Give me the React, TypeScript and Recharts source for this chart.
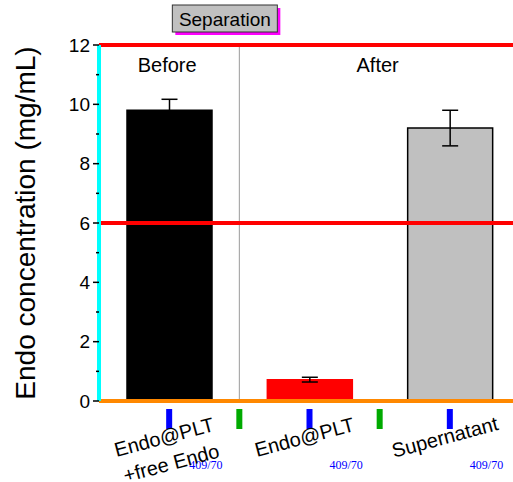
import * as React from "react";
import {
  BarChart,
  Bar,
  Cell,
  ErrorBar,
  XAxis,
  YAxis,
  ReferenceLine,
} from "recharts";

// values
const categories = ["Endo@PLT +free Endo", "Endo@PLT", "Supernatant"];
const categoryLines = [["Endo@PLT", "+free Endo"], ["Endo@PLT"], ["Supernatant"]];
const concentrations = [9.8, 0.72, 9.2];
const errors = [0.37, 0.08, 0.6];
const barColors = ["#000000", "#ff0000", "#c0c0c0"];
const barStrokes = ["#000000", "#ff0000", "#000000"];
const yTicks = [0, 1, 2, 3, 4, 5, 6, 7, 8, 9, 10, 11, 12];

const FONT = "'Liberation Sans', Arial, sans-serif";

const data = categories.map((name, i) => ({
  name,
  value: concentrations[i],
  err: errors[i],
}));

function YTick({ x, y, payload }: any) {
  const major = payload.value % 2 === 0;
  const len = major ? 6 : 3;
  return (
    <g>
      <rect x={x - len} y={y - 0.75} width={len} height={1.5} fill="#000" />
      {major && (
        <text x={x - 9} y={y} textAnchor="end" dominantBaseline="central" fontSize={19} fontFamily={FONT} fill="#000">
          {payload.value}
        </text>
      )}
    </g>
  );
}

function XTick({ x, y, index, payload }: any) {
  const lines = categoryLines[index] || [];
  const half = payload && payload.offset ? payload.offset : 70;
  return (
    <g>
      <rect x={x - 3} y={y} width={6} height={20} fill="#00f" />
      <rect x={x + half - 3} y={y} width={6} height={20} fill="#0a0" />
      <text x={x + 20} y={y + 60} fontSize={12} fill="#00f">{Math.round(y)}/{Math.round(half)}</text>
      <g transform={`translate(${x - 5},${y + 28}) rotate(-15)`}>
        {lines.map((l, i) => (
          <text key={i} x={0} y={i * 27} textAnchor="middle" dominantBaseline="central" fontSize={20} fontFamily={FONT} fill="#000">
            {l}
          </text>
        ))}
      </g>
    </g>
  );
}

function SeparationTag({ viewBox }: any) {
  const x = viewBox.x - 67;
  const y = viewBox.y - 40;
  return (
    <g>
      <rect x={x + 3} y={y + 3} width={105} height={27} fill="#f0f" />
      <rect x={x} y={y} width={105} height={27} fill="#c0c0c0" stroke="#333" strokeWidth={1} />
      <text x={x + 52.5} y={y + 14} textAnchor="middle" dominantBaseline="central" fontSize={19} fontFamily={FONT} fill="#000">
        Separation
      </text>
    </g>
  );
}

function TopText({ viewBox, value }: any) {
  return (
    <text x={viewBox.x - 2} y={viewBox.y + 20} textAnchor="middle" dominantBaseline="central" fontSize={20} fontFamily={FONT} fill="#000">
      {value}
    </text>
  );
}

function YLabel({ viewBox }: any) {
  const cx = 25;
  const cy = viewBox.y + viewBox.height / 2;
  return (
    <text x={cx} y={cy} transform={`rotate(-90 ${cx} ${cy})`} textAnchor="middle" dominantBaseline="central" fontSize={28} fontFamily={FONT} fill="#000">
      Endo concentration (mg/mL)
    </text>
  );
}

export default function App() {
  return (
    <div style={{ position: "absolute", left: 0, top: 0, width: 513, height: 482, overflow: "hidden" }}>
      <BarChart width={520} height={482} data={data} margin={{ top: 45, right: 0, bottom: 0, left: 0 }} barSize={85}>
        <XAxis dataKey="name" height={81} interval={0} stroke="#f80" strokeWidth={4} tickLine={false} tick={<XTick />} />
        <YAxis
          type="number"
          domain={[0, 12]}
          ticks={yTicks}
          interval={0}
          width={99}
          tickSize={0}
          tickMargin={0}
          tickLine={false}
          stroke="#0ff"
          strokeWidth={4}
          tick={<YTick />}
          label={{ content: <YLabel /> }}
        />
        <ReferenceLine x={categories[0]} stroke="none" label={{ value: "Before", content: <TopText /> }} />
        <ReferenceLine x={categories[1]} position="end" stroke="none" label={{ value: "After", content: <TopText /> }} />
        <ReferenceLine x={categories[1]} position="start" stroke="#9a9a9a" strokeWidth={1} label={{ content: <SeparationTag /> }} />
        <Bar dataKey="value" isAnimationActive={false}>
          {data.map((d, i) => (
            <Cell key={d.name} fill={barColors[i]} stroke={barStrokes[i]} strokeWidth={1.5} />
          ))}
          <ErrorBar dataKey="err" width={8} stroke="#000" strokeWidth={1.5} direction="y" isAnimationActive={false} />
        </Bar>
        <ReferenceLine y={12} stroke="#f00" strokeWidth={4} />
        <ReferenceLine y={6} stroke="#f00" strokeWidth={4} />
      </BarChart>
    </div>
  );
}
